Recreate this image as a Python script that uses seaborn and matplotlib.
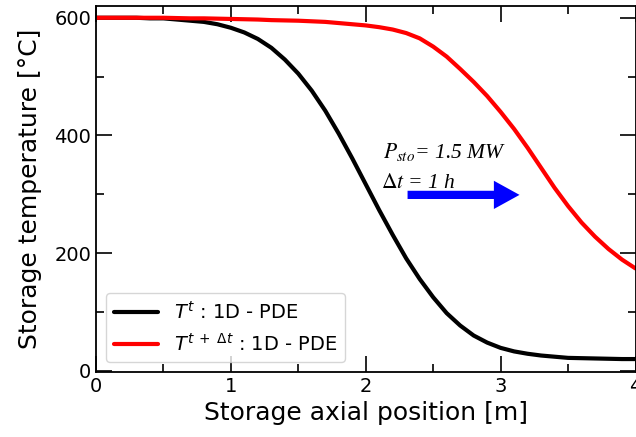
import numpy as np
import pandas as pd
import matplotlib
matplotlib.use("Agg")
import matplotlib.pyplot as plt
import seaborn as sns
from matplotlib.ticker import MultipleLocator

sns.set_style("ticks", {"text.color": "black", "axes.labelcolor": "black",
                        "xtick.color": "black", "ytick.color": "black",
                        "axes.edgecolor": "black"})
plt.rcParams['font.family'] = ['DejaVu Sans']
plt.rcParams['mathtext.fontset'] = 'dejavusans'

# axial position [m]
position = [0.0, 0.1, 0.2, 0.3, 0.4, 0.5, 0.6, 0.7, 0.8, 0.9,
            1.0, 1.1, 1.2, 1.3, 1.4, 1.5, 1.6, 1.7, 1.8, 1.9,
            2.0, 2.1, 2.2, 2.3, 2.4, 2.5, 2.6, 2.7, 2.8, 2.9,
            3.0, 3.1, 3.2, 3.3, 3.4, 3.5, 3.6, 3.7, 3.8, 3.9, 4.0]

# temperature at t
temp_t = [600, 600, 600, 600, 599, 599, 597, 595, 593, 589,
          583, 575, 564, 549, 529, 505, 476, 442, 403, 361,
          317, 273, 231, 191, 156, 125, 98, 77, 60, 48,
          39, 33, 29, 26, 24, 22, 21.5, 21, 20.5, 20, 20]

# temperature at t + dt
temp_t_dt = [600, 600, 600, 600, 600, 600, 599.5, 599, 599, 598.5,
             598, 597.5, 597, 596, 595.5, 595, 594, 593, 591, 589,
             587, 584, 580, 574, 565, 551, 534, 513, 491, 467,
             440, 411, 379, 345, 311, 280, 252, 228, 207, 189, 174]

labels = [r'$T^{t}$ : 1D - PDE', r'$T^{t\;+\;\Delta t}$ : 1D - PDE']

df = pd.DataFrame({"x": position, "t": temp_t, "tdt": temp_t_dt})

fig = plt.figure(figsize=(6.36, 4.37), dpi=100)
ax = fig.add_axes([96 / 636, 1 - 372 / 437, 539.5 / 636, 366 / 437])

sns.lineplot(data=df, x="x", y="t", color="black", lw=3, label=labels[0], ax=ax)
sns.lineplot(data=df, x="x", y="tdt", color="red", lw=3, label=labels[1], ax=ax)

ax.set_xlim(0, 4)
ax.set_ylim(-2, 620)
ax.xaxis.set_major_locator(MultipleLocator(1))
ax.xaxis.set_minor_locator(MultipleLocator(0.5))
ax.yaxis.set_major_locator(MultipleLocator(200))
ax.yaxis.set_minor_locator(MultipleLocator(100))
ax.tick_params(which="both", direction="in", top=True, right=True, width=1.2, labelsize=14)
ax.tick_params(which="major", length=11.5)
ax.tick_params(which="minor", length=5.8)
for s in ax.spines.values():
    s.set_linewidth(1.3)

ax.set_xlabel("Storage axial position [m]", fontsize=18)
ax.set_ylabel("Storage temperature [°C]", fontsize=18, labelpad=9)

ax.text(2.13, 362, r'$P_{sto}$= 1.5 MW', fontsize=15.5, style="italic",
        family="Liberation Serif", math_fontfamily="stix")
ax.text(2.11, 310, r'$\Delta t$ = 1 h', fontsize=15.5, style="italic",
        family="Liberation Serif", math_fontfamily="stix")
ax.arrow(2.31, 299, 0.83, 0, width=14, head_width=48, head_length=0.19,
         length_includes_head=True, color="blue", lw=0)

ax.legend(loc="lower left", fontsize=14, handlelength=2.3)

fig.savefig("out.png", dpi=100)
